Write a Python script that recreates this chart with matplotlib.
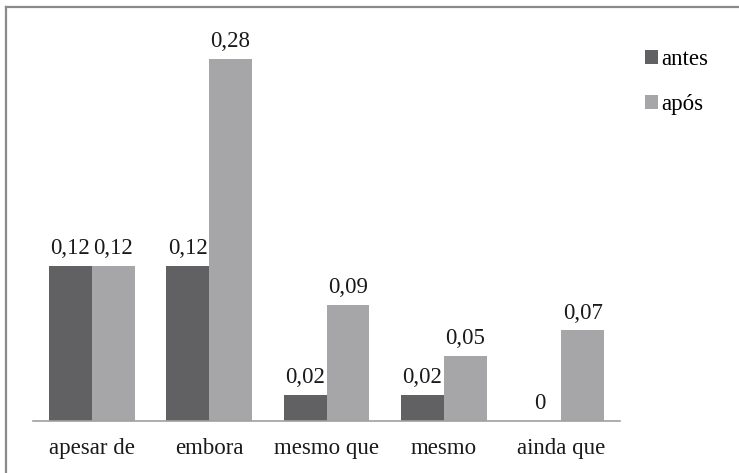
import numpy as np
import matplotlib
matplotlib.use("Agg")
from matplotlib import pyplot as plt
from matplotlib.lines import Line2D

categories = ["apesar de", "embora", "mesmo que", "mesmo", "ainda que"]
antes = [0.12, 0.12, 0.02, 0.02, 0]
apos = [0.12, 0.28, 0.09, 0.05, 0.07]
series_names = ["antes", "após"]

dark = "#616163"
light = "#a6a6a9"

plt.rcParams["font.family"] = ["Liberation Serif", "DejaVu Serif"]

fig = plt.figure(figsize=(7.39, 4.73), dpi=100)
ax = fig.add_axes([33 / 739, 52 / 473, 587 / 739, 388 / 473])

ind = np.arange(len(categories))
width = 0.366
b1 = ax.bar(ind - width / 2, antes, width, color=dark, label=series_names[0])
b2 = ax.bar(ind + width / 2, apos, width, color=light, label=series_names[1])

def fmt(v):
    return "0" if v == 0 else ("%.2f" % v).replace(".", ",")

for bars, vals in ((b1, antes), (b2, apos)):
    for rect, v in zip(bars, vals):
        ax.annotate(fmt(v), (rect.get_x() + rect.get_width() / 2, v),
                    xytext=(0, 5), textcoords="offset points",
                    ha="center", va="bottom", fontsize=16.5, color="#1a1a1a")

ax.set_xlim(-0.5, len(categories) - 0.5)
ax.set_ylim(0, 0.3)
ax.set_xticks(ind)
ax.set_xticklabels(categories, fontsize=16.5, color="#1a1a1a")
ax.tick_params(axis="x", length=0, pad=12)
ax.set_yticks([])
for s in ("top", "right", "left"):
    ax.spines[s].set_visible(False)
ax.spines["bottom"].set_color("#a0a0a0")
ax.spines["bottom"].set_linewidth(1.2)

ax.legend(loc="upper left", bbox_to_anchor=(645 / 739, 1 - 49 / 473),
          bbox_transform=fig.transFigure, frameon=False, fontsize=16.5,
          handlelength=0.55, handleheight=0.55, handletextpad=0.15,
          labelspacing=1.05, borderpad=0, borderaxespad=0)

# outer frame, only top and left edges are visible in the picture
fig.add_artist(Line2D([6 / 739, 6 / 739], [0, 1 - 7 / 473], transform=fig.transFigure,
                      color="#8a8a8a", lw=1.6))
fig.add_artist(Line2D([6 / 739, 1], [1 - 7 / 473, 1 - 7 / 473], transform=fig.transFigure,
                      color="#8a8a8a", lw=1.6))

fig.savefig("out.png", dpi=100)
